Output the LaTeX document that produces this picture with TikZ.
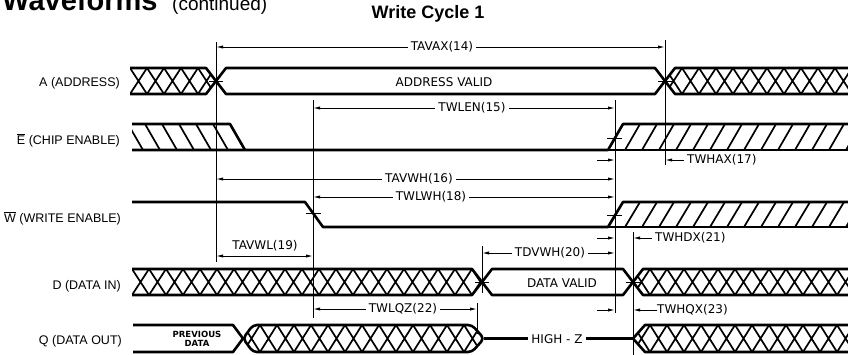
\documentclass[tikz,border=0pt]{standalone}
\usepackage{fontspec}
\setmainfont{DejaVu Sans}
\newfontfamily\titlefont{Liberation Sans}
\usetikzlibrary{arrows.meta}
\newcommand{\XHatch}[4]{%
  \pgfmathtruncatemacro{\nX}{(#2-#1)/17+1}%
  \foreach \k in {0,...,\nX}{%
    \draw[hatchln] ({#1+17*\k},#3) -- ({#1+17*(\k+1)},#4)
                   ({#1+17*\k},#4) -- ({#1+17*(\k+1)},#3);}%
}
\newcommand{\BHatch}[4]{%
  \pgfmathtruncatemacro{\nX}{(#2-#1)/17+1}%
  \foreach \k in {0,...,\nX}{%
    \draw[hatchln] ({#1+17*\k},#3) -- ({#1+17*\k+15},#4);}%
}
\newcommand{\SHatch}[4]{%
  \pgfmathtruncatemacro{\nX}{(#2-#1)/17+1}%
  \foreach \k in {0,...,\nX}{%
    \draw[hatchln] ({#1+17*\k},#4) -- ({#1+17*\k+15},#3);}%
}
\begin{document}
\begin{tikzpicture}[x=1pt,y=-1pt,
  sig/.style={line width=2.6pt,line join=round},
  hatchln/.style={line width=1.7pt},
  vline/.style={line width=0.9pt},
  tickln/.style={line width=0.9pt},
  dimln/.style={line width=0.9pt,{Latex[length=7pt,width=3.2pt]}-{Latex[length=7pt,width=3.2pt]}},
  arr/.style={line width=0.9pt,-{Latex[length=7pt,width=3.2pt]}},
  dlabel/.style={font=\fontsize{12}{14}\selectfont, fill=white, inner xsep=3pt, inner ysep=0.5pt},
  slabel/.style={font=\titlefont\fontsize{12.5}{14}\selectfont, anchor=east, inner sep=0pt},
  vlabel/.style={font=\fontsize{12}{14}\selectfont, inner sep=1pt},
  plabel/.style={font=\bfseries\fontsize{8.5}{10}\selectfont, align=center, inner sep=0pt}
]
\useasboundingbox (0,0) rectangle (848,354);
\clip (0,0) rectangle (848,354);

% titles
\node[anchor=base west, inner sep=0pt, font=\titlefont\bfseries\fontsize{29}{30}\selectfont] (ttl) at (2,10.5) {Waveforms};
\node[anchor=base west, inner sep=0pt, font=\titlefont\fontsize{19}{20}\selectfont] (ttl2) at (172,10.5) {(continued)};
\node[font=\titlefont\bfseries\fontsize{18}{20}\selectfont, inner sep=0pt] (wc) at (428,14) {Write Cycle 1};

% signal labels
\node[slabel] (lA) at (120,83) {A (ADDRESS)};
\node[slabel] (lE) at (120,140) {$\overline{\mbox{E}}$ (CHIP ENABLE)};
\node[slabel] (lW) at (121,218) {$\overline{\mbox{W}}$ (WRITE ENABLE)};
\node[slabel] (lD) at (121,286) {D (DATA IN)};
\node[slabel] (lQ) at (122,341) {Q (DATA OUT)};

% ---------- A (address) ----------
\begin{scope}
  \clip (130,68) -- (206,68) -- (216,81) -- (206,94) -- (130,94) -- cycle;
  \XHatch{130}{216}{68}{94}
\end{scope}
\draw[sig] (130,68) -- (206,68) -- (216,81) -- (206,94) -- (130,94);
\draw[sig] (216,81) -- (226,68) -- (655,68) -- (665,81) -- (655,94) -- (226,94) -- cycle;
\begin{scope}
  \clip (665,81) -- (675,68) -- (860,68) -- (860,94) -- (675,94) -- cycle;
  \XHatch{665}{860}{68}{94}
\end{scope}
\draw[sig] (860,68) -- (675,68) -- (665,81) -- (675,94) -- (860,94);
\node[vlabel] (av) at (444,82) {ADDRESS VALID};

% ---------- E (chip enable) ----------
\begin{scope}
  \clip (132,124) -- (230,124) -- (245,150) -- (132,150) -- cycle;
  \BHatch{128}{245}{124}{150}
\end{scope}
\draw[sig] (132,124) -- (230,124) -- (245,150);
\draw[sig] (132,150) -- (608,150) -- (623,124) -- (860,124);
\draw[sig] (608,150) -- (860,150);
\begin{scope}
  \clip (608,150) -- (623,124) -- (860,124) -- (860,150) -- cycle;
  \SHatch{608}{860}{124}{150}
\end{scope}

% ---------- W (write enable) ----------
\draw[sig] (132,202) -- (305,202) -- (323,227) -- (608,227) -- (623,202) -- (860,202);
\draw[sig] (608,227) -- (860,227);
\begin{scope}
  \clip (608,227) -- (623,202) -- (860,202) -- (860,227) -- cycle;
  \SHatch{608}{860}{202}{227}
\end{scope}

% ---------- D (data in) ----------
\begin{scope}
  \clip (132,269) -- (472,269) -- (482,282) -- (472,295) -- (132,295) -- cycle;
  \XHatch{132}{482}{269}{295}
\end{scope}
\draw[sig] (132,269) -- (472,269) -- (482,282) -- (472,295) -- (132,295);
\draw[sig] (482,282) -- (492,269) -- (623,269) -- (633,282) -- (623,295) -- (492,295) -- cycle;
\begin{scope}
  \clip (633,282) -- (643,269) -- (860,269) -- (860,295) -- (643,295) -- cycle;
  \XHatch{633}{860}{269}{295}
\end{scope}
\draw[sig] (860,269) -- (643,269) -- (633,282) -- (643,295) -- (860,295);
\node[vlabel] (dv) at (562,283) {DATA VALID};

% ---------- Q (data out) ----------
\draw[sig] (133,325) -- (233,325) -- (243,338.5) -- (233,352) -- (133,352);
\node[plabel] (prev) at (197,339) {PREVIOUS\\[-1pt]DATA};
\begin{scope}
  \clip (243,338.5) -- (253,325) -- (470,325) -- (484,338.5) -- (470,352) -- (253,352) -- cycle;
  \XHatch{243}{484}{325}{352}
\end{scope}
\draw[sig, rounded corners=4pt] (243,338.5) -- (253,325) -- (472,325) -- (484,338.5) -- (472,352) -- (253,352) -- cycle;
\draw[sig] (484,338.5) -- (633,338.5);
\node[dlabel, fill=white] (hz) at (557,339) {HIGH - Z};
\begin{scope}
  \clip (633,338.5) -- (645,325) -- (860,325) -- (860,352) -- (645,352) -- cycle;
  \XHatch{633}{860}{325}{352}
\end{scope}
\draw[sig] (860,325) -- (645,325) -- (633,338.5) -- (645,352) -- (860,352);

% ---------- vertical reference lines ----------
\coordinate (v1t) at (216,42);  \coordinate (v1b) at (216,262);
\coordinate (v2t) at (665,40);  \coordinate (v2b) at (665,165);
\coordinate (v3t) at (313,100); \coordinate (v3b) at (313,318);
\coordinate (v4t) at (615,100); \coordinate (v4b) at (615,313);
\coordinate (v5t) at (482,246); \coordinate (v5b) at (482,293);
\coordinate (v6t) at (633,232); \coordinate (v6b) at (633,356);
\coordinate (v7t) at (477,303); \coordinate (v7b) at (477,334);
\foreach \v in {1,...,7} {\draw[vline] (v\v t) -- (v\v b);}

% crossing ticks
\draw[tickln] (209,81) -- (223,81);
\draw[tickln] (658,81) -- (672,81);
\draw[tickln] (475,282) -- (489,282);
\draw[tickln] (626,282) -- (640,282);
\draw[tickln] (306,213) -- (321,213);
\draw[tickln] (607,138) -- (622,138);
\draw[tickln] (607,215) -- (622,215);

% ---------- dimensions ----------
\coordinate (tavaxL) at (216,47);  \coordinate (tavaxR) at (665,47);
\draw[dimln] (tavaxL) -- (tavaxR);
\node[dlabel] (tavax) at (442,47) {TAVAX(14)};

\coordinate (twlenL) at (313,108); \coordinate (twlenR) at (615,108);
\draw[dimln] (twlenL) -- (twlenR);
\node[dlabel] (twlen) at (472,108) {TWLEN(15)};

\coordinate (tavwhL) at (216,179); \coordinate (tavwhR) at (615,179);
\draw[dimln] (tavwhL) -- (tavwhR);
\node[dlabel] (tavwh) at (419,179) {TAVWH(16)};

\coordinate (twlwhL) at (313,197); \coordinate (twlwhR) at (615,197);
\draw[dimln] (twlwhL) -- (twlwhR);
\node[dlabel] (twlwh) at (431,197) {TWLWH(18)};

\coordinate (twhaxS) at (597,160); \coordinate (twhaxE) at (615,160);
\draw[arr] (twhaxS) -- (twhaxE);
\node[dlabel, anchor=west] (twhax) at (684,160) {TWHAX(17)};
\coordinate (twhaxR) at (665,160);
\draw[arr] (twhax.west) -- (twhaxR);

\coordinate (tavwlL) at (216,256); \coordinate (tavwlR) at (313,256);
\draw[dimln] (tavwlL) -- (tavwlR);
\node[dlabel, fill=none] (tavwl) at (265,246) {TAVWL(19)};

\coordinate (twhdxS) at (597,238); \coordinate (twhdxE) at (615,238);
\draw[arr] (twhdxS) -- (twhdxE);
\node[dlabel, anchor=west] (twhdx) at (652,238) {TWHDX(21)};
\coordinate (twhdxR) at (633,238);
\draw[arr] (twhdx.west) -- (twhdxR);

\coordinate (tdvwhL) at (482,253); \coordinate (tdvwhR) at (615,253);
\draw[dimln] (tdvwhL) -- (tdvwhR);
\node[dlabel] (tdvwh) at (550,253) {TDVWH(20)};

\coordinate (twlqzL) at (313,309); \coordinate (twlqzR) at (477,309);
\draw[dimln] (twlqzL) -- (twlqzR);
\node[dlabel] (twlqz) at (403,309) {TWLQZ(22)};

\coordinate (twhqxS) at (597,310); \coordinate (twhqxE) at (615,310);
\draw[arr] (twhqxS) -- (twhqxE);
\node[dlabel, anchor=west, inner xsep=0pt] (twhqx) at (657,310) {TWHQX(23)};
\coordinate (twhqxR) at (633,310);
\draw[arr] (twhqx.west) -- (twhqxR);
\end{tikzpicture}
\end{document}
